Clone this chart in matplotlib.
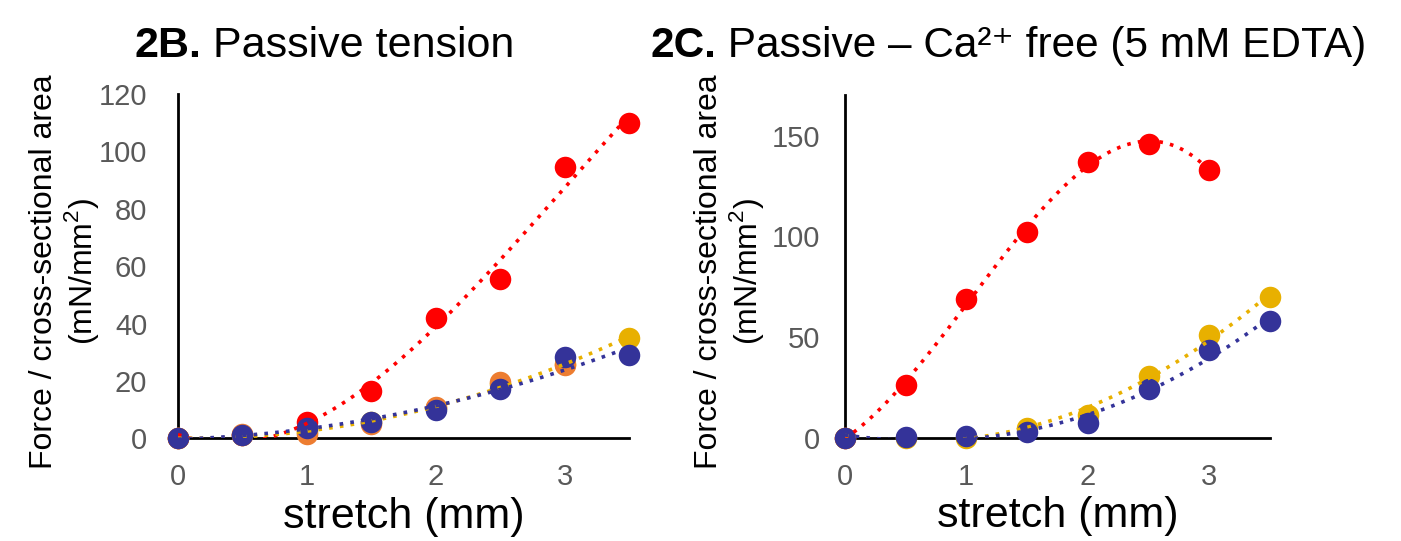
import matplotlib.pyplot as plt
import numpy as np

plt.rcParams['font.family'] = ['Liberation Sans', 'DejaVu Sans']
plt.rcParams['mathtext.fontset'] = 'custom'
plt.rcParams['mathtext.rm'] = 'Liberation Sans'

# stretch (mm)
x = [0, 0.5, 1, 1.5, 2, 2.5, 3, 3.5]

# 2B - passive tension
b_red = [0, 1, 5.5, 16.5, 42, 55.5, 94.5, 110]
b_gold = [0, 1, 2, 5.5, 10.5, 19, 26, 35]
b_orange = [0, 1.5, 1.5, 4.8, 11, 19.5, 25.5]
b_blue = [0, 1, 3.5, 5.7, 9.8, 17, 28.3, 29]

# 2C - passive, Ca2+ free
c_red = [0, 26, 69, 102, 137, 146, 133]
c_gold = [0, 0, 0, 5, 11.5, 30.5, 51, 70]
c_blue = [0, 0.5, 1, 2.7, 7.2, 24, 43.6, 57.7]

RED = '#FF0000'
GOLD = '#E8B000'
ORANGE = '#ED7D31'
BLUE = '#343399'
GREY = '#595959'

fig = plt.figure(figsize=(14.01, 5.41), dpi=100)
ax1 = fig.add_axes([0.127, 0.190, 0.322, 0.636])
ax2 = fig.add_axes([0.603, 0.191, 0.3035, 0.633])


def trend(ax, xs, ys, color, deg=3):
    xs = np.array(xs[:len(ys)], dtype=float)
    p = np.polyfit(xs, ys, deg)
    xx = np.linspace(xs.min(), xs.max(), 200)
    ax.plot(xx, np.polyval(p, xx), color=color, ls=(0, (1, 2)), lw=2.6, zorder=4)


def dots(ax, xs, ys, color, z):
    ax.plot(xs[:len(ys)], ys, 'o', color=color, ms=15.5, mec='none',
            clip_on=False, zorder=z)


dots(ax1, x, b_red, RED, 3)
dots(ax1, x, b_gold, GOLD, 3)
dots(ax1, x, b_orange, ORANGE, 3)
dots(ax1, x, b_blue, BLUE, 3)
trend(ax1, x, b_red, RED)
trend(ax1, x, b_gold, GOLD, 2)
trend(ax1, x, b_blue, BLUE, 2)

dots(ax2, x, c_red, RED, 3)
dots(ax2, x, c_gold, GOLD, 3)
dots(ax2, x, c_blue, BLUE, 3)
trend(ax2, x, c_red, RED)
trend(ax2, x, c_gold, GOLD)
trend(ax2, x, c_blue, BLUE)

for ax, top, ticks in [(ax1, 120, [0, 20, 40, 60, 80, 100, 120]),
                       (ax2, 170, [0, 50, 100, 150])]:
    ax.set_xlim(0, 3.5)
    ax.set_ylim(0, top)
    ax.set_xticks([0, 1, 2, 3])
    ax.set_yticks(ticks)
    for s in ['top', 'right']:
        ax.spines[s].set_visible(False)
    for s in ['left', 'bottom']:
        ax.spines[s].set_linewidth(2)
        ax.spines[s].set_zorder(2)
    ax.tick_params(length=0, labelsize=21, labelcolor=GREY)
    ax.tick_params(axis='x', pad=18)
    ax.set_xlabel('stretch (mm)', fontsize=31, labelpad=4)
    ax.set_ylabel('Force / cross-sectional area\n(mN/mm$^2$)', fontsize=23,
                  linespacing=1.12)

ax1.tick_params(axis='y', pad=22)
ax2.tick_params(axis='y', pad=18)
ax1.yaxis.set_label_coords(-0.17, 0.485)
ax2.yaxis.set_label_coords(-0.185, 0.486)

# titles: bold panel tag followed by regular text
for x0, tag, rest, fs in [(0.096, '2B.', ' Passive tension', 31),
                          (0.464, '2C.', ' Passive – Ca²⁺ free (5 mM EDTA)', 30.5)]:
    t = fig.text(x0, 0.895, tag, fontsize=fs, weight='bold', va='baseline')
    ax1.annotate(rest, xy=(1, 0), xycoords=t, fontsize=fs,
                 va='bottom', ha='left', annotation_clip=False)

fig.savefig('out.png', dpi=100)
